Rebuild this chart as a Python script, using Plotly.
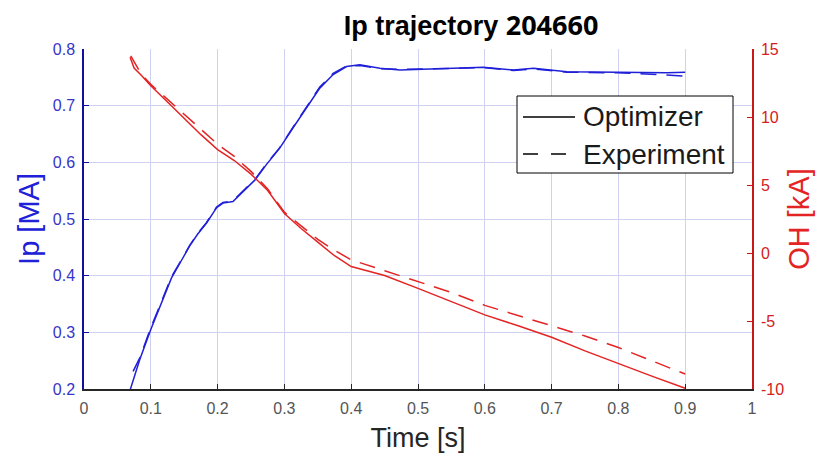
import plotly.graph_objects as go

# ---- data ----
ip_opt_t = [0.069, 0.0835, 0.1, 0.115, 0.131, 0.145, 0.158, 0.17, 0.1835, 0.1985, 0.208, 0.223, 0.238,
            0.256, 0.273, 0.293, 0.313, 0.333, 0.353, 0.373, 0.393, 0.413, 0.443, 0.473, 0.523, 0.598,
            0.643, 0.673, 0.723, 0.798, 0.873, 0.9]
ip_opt = [0.198, 0.252, 0.305, 0.35, 0.396, 0.425, 0.452, 0.473, 0.493, 0.52, 0.528, 0.531, 0.549,
          0.569, 0.596, 0.625, 0.661, 0.696, 0.731, 0.755, 0.769, 0.772, 0.766, 0.763, 0.765, 0.768,
          0.763, 0.766, 0.760, 0.759, 0.758, 0.759]

ip_exp_t = [0.0735, 0.0835, 0.1, 0.115, 0.131, 0.145, 0.158, 0.17, 0.1835, 0.1985, 0.208, 0.223, 0.238,
            0.256, 0.273, 0.293, 0.313, 0.333, 0.353, 0.373, 0.393, 0.413, 0.443, 0.473, 0.523, 0.598,
            0.643, 0.673, 0.723, 0.798, 0.86, 0.9]
ip_exp = [0.231, 0.255, 0.308, 0.352, 0.398, 0.426, 0.453, 0.474, 0.494, 0.521, 0.529, 0.532, 0.550,
          0.570, 0.597, 0.626, 0.662, 0.697, 0.733, 0.757, 0.770, 0.771, 0.765, 0.764, 0.765, 0.767,
          0.762, 0.765, 0.759, 0.758, 0.755, 0.752]

oh_opt_t = [0.069, 0.075, 0.085, 0.1, 0.125, 0.15, 0.175, 0.2, 0.225, 0.25, 0.275, 0.3, 0.325, 0.35,
            0.375, 0.4, 0.425, 0.45, 0.5, 0.55, 0.6, 0.65, 0.7, 0.75, 0.8, 0.85, 0.9]
oh_opt = [14.4, 13.6, 13.1, 12.3, 11.1, 9.9, 8.7, 7.6, 6.8, 5.8, 4.6, 2.9, 1.8, 0.8,
          -0.2, -1.0, -1.35, -1.65, -2.6, -3.6, -4.55, -5.35, -6.2, -7.2, -8.15, -9.05, -9.95]

oh_exp_t = [0.07, 0.085, 0.1, 0.125, 0.15, 0.175, 0.2, 0.225, 0.25, 0.275, 0.3, 0.325, 0.35, 0.375,
            0.4, 0.45, 0.5, 0.55, 0.6, 0.65, 0.7, 0.75, 0.8, 0.85, 0.9]
oh_exp = [14.5, 13.2, 12.4, 11.3, 10.2, 9.1, 8.0, 7.1, 6.0, 4.7, 3.0, 2.0, 1.0, 0.2,
          -0.5, -1.3, -2.1, -2.9, -3.85, -4.6, -5.3, -6.1, -6.95, -7.9, -8.9]

x_ticks = [0, 0.1, 0.2, 0.3, 0.4, 0.5, 0.6, 0.7, 0.8, 0.9, 1]
x_tick_labels = ["0", "0.1", "0.2", "0.3", "0.4", "0.5", "0.6", "0.7", "0.8", "0.9", "1"]
ip_ticks = [0.2, 0.3, 0.4, 0.5, 0.6, 0.7, 0.8]
ip_tick_labels = ["0.2", "0.3", "0.4", "0.5", "0.6", "0.7", "0.8"]
oh_ticks = [-10, -5, 0, 5, 10, 15]
oh_tick_labels = ["-10", "-5", "0", "5", "10", "15"]
legend_names = ["Optimizer", "Experiment"]

BLUE = "#2020d8"
RED = "#e42424"
FONT = "Liberation Sans"
DASH = "16px,10px"

fig = go.Figure()
fig.add_trace(go.Scatter(x=ip_exp_t, y=ip_exp, mode="lines", line=dict(color=BLUE, width=1.5, dash=DASH),
                         showlegend=False, yaxis="y"))
fig.add_trace(go.Scatter(x=ip_opt_t, y=ip_opt, mode="lines", line=dict(color=BLUE, width=1.5),
                         showlegend=False, yaxis="y"))
fig.add_trace(go.Scatter(x=oh_exp_t, y=oh_exp, mode="lines", line=dict(color=RED, width=1.5, dash=DASH),
                         showlegend=False, yaxis="y2"))
fig.add_trace(go.Scatter(x=oh_opt_t, y=oh_opt, mode="lines", line=dict(color=RED, width=1.5),
                         showlegend=False, yaxis="y2"))

# ---- legend box (drawn in paper coordinates) ----
L, R_, T_, B_ = 84, 752, 49, 389
def px(x):
    return (x - L) / (R_ - L)
def py(y):
    return (B_ - y) / (B_ - T_)

shapes = [
    dict(type="rect", xref="paper", yref="paper", x0=px(517), x1=px(733), y0=py(173), y1=py(96),
         line=dict(color="black", width=1), fillcolor="white", layer="above"),
    dict(type="line", xref="paper", yref="paper", x0=px(523), x1=px(575), y0=py(117), y1=py(117),
         line=dict(color="black", width=1.5), layer="above"),
    dict(type="line", xref="paper", yref="paper", x0=px(523), x1=px(568), y0=py(154), y1=py(154),
         line=dict(color="black", width=1.5, dash="15px,13px"), layer="above"),
]
annotations = [
    dict(xref="paper", yref="paper", x=px(581), y=py(yy), text=name, showarrow=False,
         xanchor="left", yanchor="middle", font=dict(family=FONT, size=28, color="#1a1a1a"))
    for name, yy in zip(legend_names, [117, 154])
]

fig.update_layout(
    width=836, height=457,
    margin=dict(l=84, r=84, t=49, b=68, autoexpand=False),
    paper_bgcolor="white", plot_bgcolor="white",
    font=dict(family=FONT),
    showlegend=False,
    shapes=shapes, annotations=annotations,
    title=dict(
        text="<b>Ip trajectory</b> <span style='font-family:Open Sans'><b>204660</b></span>",
        font=dict(family=FONT, size=27, color="black"),
        x=471 / 836, xref="container", xanchor="center",
        y=1 - 26 / 457, yref="container", yanchor="middle",
    ),
    xaxis=dict(
        range=[0, 1], tickvals=x_ticks, ticktext=x_tick_labels, automargin=False,
        ticks="inside", ticklen=5, tickcolor="#262626",
        showline=True, linecolor="#262626", linewidth=1.5,
        showgrid=True, gridcolor="rgb(208,208,240)", gridwidth=1, zeroline=False,
        tickfont=dict(size=16, color="#555555"), ticklabelstandoff=4,
        title=dict(text="Time [s]", font=dict(size=27, color="#262626"), standoff=12),
    ),
    yaxis=dict(
        range=[0.2, 0.8], tickvals=ip_ticks, ticktext=ip_tick_labels, automargin=False,
        ticks="inside", ticklen=5, tickcolor="#1010a0",
        showline=True, linecolor="#1010a0", linewidth=1.5,
        showgrid=True, gridcolor="rgb(208,208,240)", gridwidth=1, zeroline=False,
        tickfont=dict(size=16, color="#3535c8"), ticklabelstandoff=4,
        title=dict(text="Ip [MA]", font=dict(size=29, color=BLUE), standoff=5),
    ),
    yaxis2=dict(
        range=[-10, 15], tickvals=oh_ticks, ticktext=oh_tick_labels, automargin=False,
        overlaying="y", side="right", anchor="x",
        ticks="inside", ticklen=5, tickcolor="#c81818",
        showline=True, linecolor="#c81818", linewidth=1.5,
        showgrid=False, zeroline=False,
        tickfont=dict(size=16, color="#d42020"), ticklabelstandoff=4,
        title=dict(text="OH [kA]", font=dict(size=29, color=RED), standoff=6),
    ),
)

fig.write_html("out.html")
